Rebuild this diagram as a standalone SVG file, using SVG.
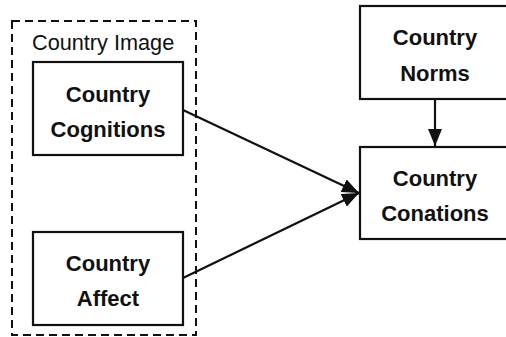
<svg xmlns="http://www.w3.org/2000/svg" width="506" height="337" viewBox="0 0 506 337">
<style>
.box{fill:#fff;stroke:#111;stroke-width:2.2}
.lbl{font-family:"Liberation Sans",Arial,sans-serif;font-weight:bold;font-size:22px;fill:#111;text-anchor:middle}
.title{font-family:"Liberation Sans",Arial,sans-serif;font-size:21.7px;fill:#111}
.edge{stroke:#111;stroke-width:2.2;fill:none}
</style>
<defs>
<marker id="ah" viewBox="0 0 17 14" refX="17" refY="7" markerWidth="17" markerHeight="14" orient="auto" markerUnits="userSpaceOnUse">
<path d="M0,0 L17,7 L0,14 z" fill="#111"/>
</marker>
</defs>
<g id="country-image">
<rect x="12" y="21" width="184" height="314" fill="none" stroke="#111" stroke-width="2" stroke-dasharray="8,5"/>
<text class="title" x="32" y="50">Country Image</text>
</g>
<g id="cognitions">
<rect class="box" x="33" y="62" width="150" height="93"/>
<text class="lbl" x="108" y="102">Country</text>
<text class="lbl" x="108" y="137">Cognitions</text>
</g>
<g id="affect">
<rect class="box" x="33" y="232" width="150" height="93"/>
<text class="lbl" x="108" y="271">Country</text>
<text class="lbl" x="108" y="306">Affect</text>
</g>
<g id="norms">
<rect class="box" x="360" y="6" width="150" height="93"/>
<text class="lbl" x="435" y="45">Country</text>
<text class="lbl" x="435" y="81">Norms</text>
</g>
<g id="conations">
<rect class="box" x="360" y="147" width="150" height="92"/>
<text class="lbl" x="435" y="186">Country</text>
<text class="lbl" x="435" y="221">Conations</text>
</g>
<g id="connectors">
<line class="edge" x1="183" y1="110" x2="359" y2="193" marker-end="url(#ah)"/>
<line class="edge" x1="183" y1="278" x2="359" y2="193" marker-end="url(#ah)"/>
<line class="edge" x1="435" y1="99" x2="435" y2="146" marker-end="url(#ah)"/>
</g>
</svg>
